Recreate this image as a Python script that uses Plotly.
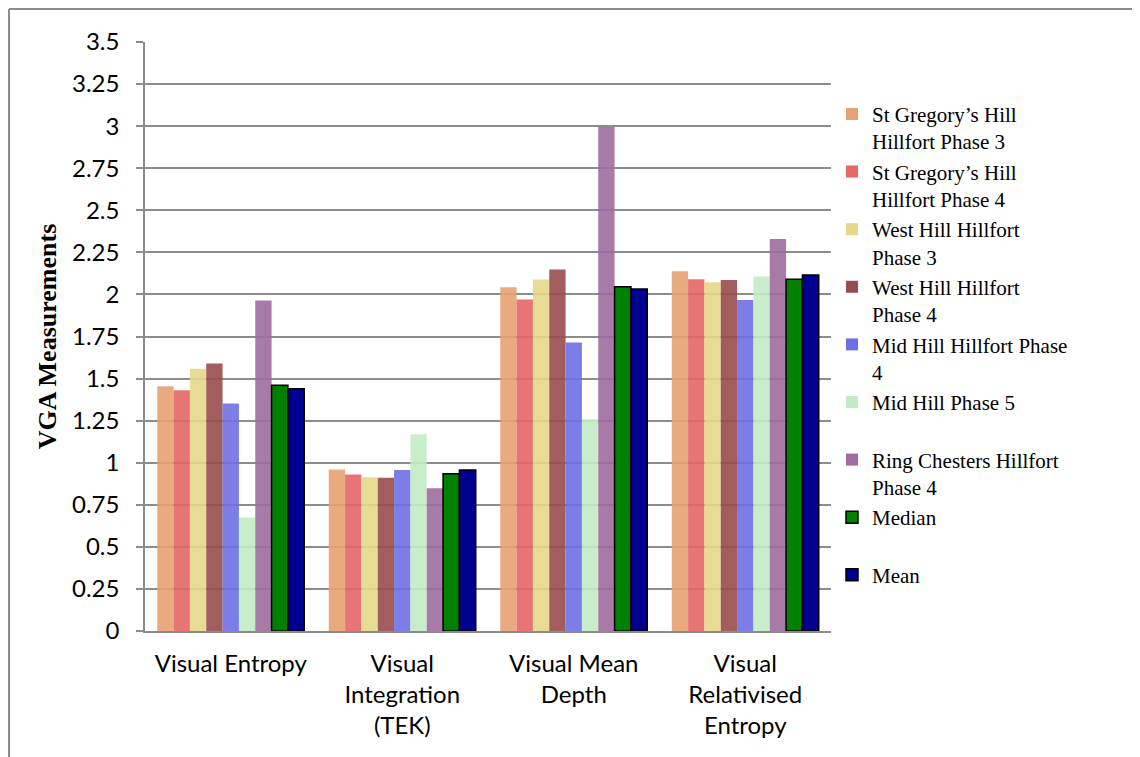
"""
    VGA measurements per hillfort phase
"""

import plotly.graph_objs as go

categories = ["Visual Entropy", "Visual<br>Integration<br>(TEK)",
              "Visual Mean<br>Depth", "Visual<br>Relativised<br>Entropy"]

st_gregory_p3 = [1.455, 0.959, 2.043, 2.137]
st_gregory_p4 = [1.430, 0.930, 1.970, 2.090]
west_hill_p3 = [1.558, 0.914, 2.088, 2.072]
west_hill_p4 = [1.590, 0.910, 2.148, 2.086]
mid_hill_p4 = [1.352, 0.957, 1.714, 1.967]
mid_hill_p5 = [0.675, 1.169, 1.259, 2.107]
ring_chesters_p4 = [1.964, 0.849, 2.995, 2.330]
median = [1.460, 0.934, 2.045, 2.090]
mean = [1.440, 0.957, 2.033, 2.115]

names = [
    "St Gregory’s Hill<br>Hillfort Phase 3",
    "St Gregory’s Hill<br>Hillfort Phase 4",
    "West Hill Hillfort<br>Phase 3",
    "West Hill Hillfort<br>Phase 4",
    "Mid Hill Hillfort Phase<br>4",
    "Mid Hill Phase 5<br> ",
    "Ring Chesters Hillfort<br>Phase 4",
    "Median<br> ",
    "Mean",
]

series = [st_gregory_p3, st_gregory_p4, west_hill_p3, west_hill_p4,
          mid_hill_p4, mid_hill_p5, ring_chesters_p4, median, mean]

colors = ["#E8A172", "#E56666", "#E5D88A", "#984C4C", "#6F6FE5",
          "#C2EBC5", "#9E6C9E", "#008000", "#000090"]

# plot area 686 x 589 px, page body adds an 8px offset
L, T, W, H = 137, 34, 686, 589

data = []
for i, (name, vals, col) in enumerate(zip(names, series, colors)):
    solid = i >= 7
    data.append(go.Bar(
        x=categories, y=vals, name=name, legendgroup=str(i),
        marker={"color": col,
                "opacity": 1 if solid else 0.9,
                "line": {"color": "black", "width": 1.5 if solid else 0}},
    ))

layout = go.Layout(
    width=1140, height=757,
    margin={"l": L, "r": 1140 - L - W, "t": T, "b": 757 - T - H},
    paper_bgcolor="white", plot_bgcolor="white",
    barmode="group", bargap=0.143, bargroupgap=0,
    font={"family": "Lato", "size": 24, "color": "black"},
    xaxis={"showgrid": False, "showline": True, "linecolor": "#8c8c8c",
           "linewidth": 1.5, "tickfont": {"size": 24}, "ticks": "",
           "ticklabelstandoff": 10},
    yaxis={"range": [0, 3.5], "dtick": 0.25, "tickformat": "~g",
           "showgrid": True, "gridcolor": "#8c8c8c", "gridwidth": 1.5,
           "showline": True, "linecolor": "#8c8c8c", "linewidth": 1.5,
           "ticks": "outside", "ticklen": 7, "tickcolor": "#8c8c8c",
           "tickwidth": 1.5, "zeroline": False, "ticklabelstandoff": 12,
           "tickfont": {"size": 24},
           "title": {"text": "<b>VGA Measurements</b>", "standoff": 8,
                     "font": {"family": "Liberation Serif", "size": 26}}},
    legend={"x": (824 - L) / W, "xanchor": "left", "y": 0.912, "yanchor": "top",
            "valign": "top", "traceorder": "grouped", "tracegroupgap": 0,
            "font": {"family": "Liberation Serif", "size": 21}},
    shapes=[
        {"type": "line", "xref": "paper", "yref": "paper",
         "x0": (1 - L) / W, "x1": (1140 - L) / W,
         "y0": 1 + (T - 1) / H, "y1": 1 + (T - 1) / H,
         "line": {"color": "#8c8c8c", "width": 2}},
        {"type": "line", "xref": "paper", "yref": "paper",
         "x0": (1 - L) / W, "x1": (1 - L) / W,
         "y0": 1 + (T - 1) / H, "y1": -(757 - T - H) / H,
         "line": {"color": "#8c8c8c", "width": 2}},
    ],
)

fig = go.Figure(data=data, layout=layout)
fig.write_html("out.html")
